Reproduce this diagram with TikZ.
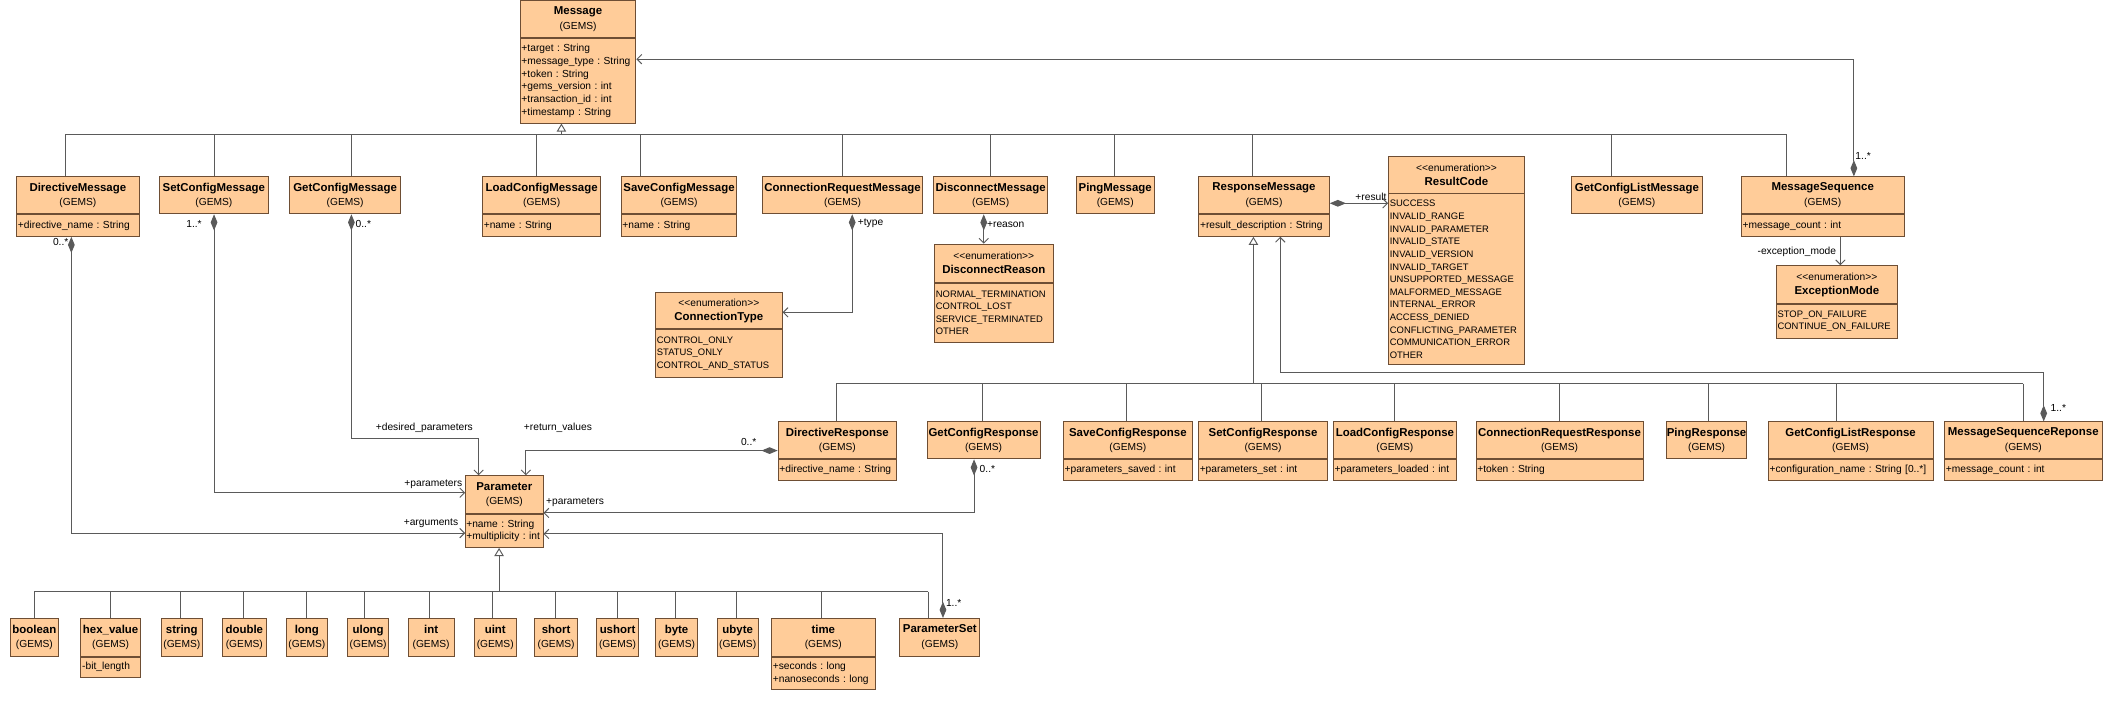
\documentclass[tikz,border=0pt]{standalone}
\usepackage{fontspec}
\setmainfont{Liberation Sans}
\usepackage{tikz}
\usetikzlibrary{arrows.meta}
\definecolor{boxfill}{RGB}{255,204,153}
\definecolor{boxedge}{RGB}{110,78,52}
\definecolor{wire}{RGB}{90,90,90}
\frenchspacing
\newcommand{\cname}[1]{{\fontsize{8.5}{10.5}\selectfont\bfseries #1}}
\newcommand{\clsname}[1]{\cname{#1}\\[1.5pt](GEMS)}
\newcommand{\enumtag}{<{}<enumeration>{}>}

\begin{document}
\begin{tikzpicture}[x=1pt,y=-1pt,font=\fontsize{7.6}{9.4}\selectfont,
  class node/.style={draw=boxedge, fill=boxfill, line width=0.7pt, inner sep=0pt, anchor=north west, align=center, minimum height=27.5pt},
  attr node/.style={draw=boxedge, fill=boxfill, line width=0.7pt, inner xsep=1pt, inner ysep=0pt, anchor=north west, align=left, text width=#1, minimum height=16pt},
  enum node/.style={attr node=#1, font=\fontsize{7}{9.4}\selectfont},
  wire line/.style={draw=wire, line width=0.7pt},
  gen/.style={wire line, -{Triangle[length=6pt,width=7pt,fill=white]}},
  nav/.style={wire line, -{Straight Barb[length=3.5pt,width=7pt]}},
  comp/.style={wire line, {Diamond[length=12pt,width=5pt]}-{Straight Barb[length=3.5pt,width=7pt]}},
  lbl/.style={inner sep=0pt}]
  \fill[white] (0,0) rectangle (1568,526);
  \useasboundingbox (0,0) rectangle (1568,526);

  % Message and its subclasses
  \node[class node, minimum width=86pt, minimum height=27.7pt] (msg) at (386,0) {\clsname{Message}};
  \node[attr node=84pt, minimum height=62.7pt] (msgA) at (msg.south west) {+target : String\\+message\_type : String\\+token : String\\+gems\_version : int\\+transaction\_id : int\\+timestamp : String};

  \node[class node, minimum width=91pt] (dmsg) at (12,131) {\clsname{DirectiveMessage}};
  \node[attr node=89pt] (dmsgA) at (dmsg.south west) {+directive\_name : String};
  \node[class node, minimum width=81pt] (scmsg) at (118,131) {\clsname{SetConfigMessage}};
  \node[class node, minimum width=82pt] (gcmsg) at (215,131) {\clsname{GetConfigMessage}};
  \node[class node, minimum width=88pt] (lcmsg) at (358,131) {\clsname{LoadConfigMessage}};
  \node[attr node=86pt] (lcmsgA) at (lcmsg.south west) {+name : String};
  \node[class node, minimum width=86pt] (svmsg) at (461,131) {\clsname{SaveConfigMessage}};
  \node[attr node=84pt] (svmsgA) at (svmsg.south west) {+name : String};
  \node[class node, minimum width=119pt] (cnmsg) at (566,131) {\clsname{ConnectionRequestMessage}};
  \node[class node, minimum width=85pt] (dcmsg) at (693,131) {\clsname{DisconnectMessage}};
  \node[class node, minimum width=58pt] (pgmsg) at (799,131) {\clsname{PingMessage}};
  \node[class node, minimum width=97pt] (rspmsg) at (890,131) {\clsname{ResponseMessage}};
  \node[attr node=95pt] (rspmsgA) at (rspmsg.south west) {+result\_description : String};
  \node[class node, minimum width=97pt] (gclmsg) at (1167,131) {\clsname{GetConfigListMessage}};
  \node[class node, minimum width=121pt] (mseq) at (1293,131) {\clsname{MessageSequence}};
  \node[attr node=119pt] (mseqA) at (mseq.south west) {+message\_count : int};

  % enumerations
  \node[class node, minimum width=101pt, minimum height=27pt] (rescode) at (1031,116) {\enumtag\\[1pt]\cname{ResultCode}};
  \node[enum node=99pt, minimum height=127pt] (rescodeV) at (rescode.south west) {SUCCESS\\INVALID\_RANGE\\INVALID\_PARAMETER\\INVALID\_STATE\\INVALID\_VERSION\\INVALID\_TARGET\\UNSUPPORTED\_MESSAGE\\MALFORMED\_MESSAGE\\INTERNAL\_ERROR\\ACCESS\_DENIED\\CONFLICTING\_PARAMETER\\COMMUNICATION\_ERROR\\OTHER};
  \node[class node, minimum width=94pt, minimum height=27pt] (contype) at (486.6,217) {\enumtag\\[1pt]\cname{ConnectionType}};
  \node[enum node=92pt, minimum height=35pt] (contypeV) at (contype.south west) {CONTROL\_ONLY\\STATUS\_ONLY\\CONTROL\_AND\_STATUS};
  \node[class node, minimum width=88pt, minimum height=28.5pt] (dcreason) at (693.8,181) {\enumtag\\[1pt]\cname{DisconnectReason}};
  \node[enum node=86pt, minimum height=43.5pt] (dcreasonV) at (dcreason.south west) {NORMAL\_TERMINATION\\CONTROL\_LOST\\SERVICE\_TERMINATED\\OTHER};
  \node[class node, minimum width=90pt, minimum height=28pt] (exmode) at (1319,197) {\enumtag\\[1pt]\cname{ExceptionMode}};
  \node[enum node=88pt, minimum height=25pt] (exmodeV) at (exmode.south west) {STOP\_ON\_FAILURE\\CONTINUE\_ON\_FAILURE};

  % responses
  \node[class node, minimum width=88pt] (dresp) at (577.6,313) {\clsname{DirectiveResponse}};
  \node[attr node=86pt, minimum height=15.5pt] (drespA) at (dresp.south west) {+directive\_name : String};
  \node[class node, minimum width=84pt] (gcresp) at (688.2,313) {\clsname{GetConfigResponse}};
  \node[class node, minimum width=96pt] (svresp) at (789.4,313) {\clsname{SaveConfigResponse}};
  \node[attr node=94pt, minimum height=15.5pt] (svrespA) at (svresp.south west) {+parameters\_saved : int};
  \node[class node, minimum width=96pt] (scresp) at (889.8,313) {\clsname{SetConfigResponse}};
  \node[attr node=94pt, minimum height=15.5pt] (screspA) at (scresp.south west) {+parameters\_set : int};
  \node[class node, minimum width=91.5pt] (lcresp) at (990,313) {\clsname{LoadConfigResponse}};
  \node[attr node=89.5pt, minimum height=15.5pt] (lcrespA) at (lcresp.south west) {+parameters\_loaded : int};
  \node[class node, minimum width=124pt] (cnresp) at (1096,313) {\clsname{ConnectionRequestResponse}};
  \node[attr node=122pt, minimum height=15.5pt] (cnrespA) at (cnresp.south west) {+token : String};
  \node[class node, minimum width=59.5pt] (pgresp) at (1237.5,313) {\clsname{PingResponse}};
  \node[class node, minimum width=122.5pt] (gclresp) at (1313,313) {\clsname{GetConfigListResponse}};
  \node[attr node=120.5pt, minimum height=15.5pt] (gclrespA) at (gclresp.south west) {+configuration\_name : String [0..*]};
  \node[class node, minimum width=117pt] (msresp) at (1444,313) {\clsname{MessageSequenceReponse}};
  \node[attr node=115pt, minimum height=15.5pt] (msrespA) at (msresp.south west) {+message\_count : int};

  % parameter types
  \node[class node, minimum width=57.5pt, minimum height=28pt] (param) at (345.5,353) {\clsname{Parameter}};
  \node[attr node=56.5pt, inner xsep=0.5pt, minimum height=24.6pt] (paramA) at (param.south west) {+name : String\\+multiplicity : int};

  \node[class node, minimum width=35.8pt, minimum height=28pt] (pbool) at (7.3,459) {\clsname{boolean}};
  \node[class node, minimum width=44.3pt, minimum height=28pt] (phex) at (59.7,459) {\clsname{hex\_value}};
  \node[attr node=42.3pt, minimum height=15pt] (phexA) at (phex.south west) {-bit\_length};
  \node[class node, minimum width=30.6pt, minimum height=28pt] (pstr) at (119.4,459) {\clsname{string}};
  \node[class node, minimum width=32.4pt, minimum height=28pt] (pdbl) at (164.9,459) {\clsname{double}};
  \node[class node, minimum width=30.8pt, minimum height=28pt] (plong) at (212.2,459) {\clsname{long}};
  \node[class node, minimum width=30.8pt, minimum height=28pt] (pulong) at (257.7,459) {\clsname{ulong}};
  \node[class node, minimum width=34.3pt, minimum height=28pt] (pint) at (302.7,459) {\clsname{int}};
  \node[class node, minimum width=31pt, minimum height=28pt] (puint) at (352,459) {\clsname{uint}};
  \node[class node, minimum width=31.4pt, minimum height=28pt] (pshort) at (397,459) {\clsname{short}};
  \node[class node, minimum width=31.3pt, minimum height=28pt] (pushort) at (442.7,459) {\clsname{ushort}};
  \node[class node, minimum width=31.3pt, minimum height=28pt] (pbyte) at (486.5,459) {\clsname{byte}};
  \node[class node, minimum width=30.8pt, minimum height=28pt] (pubyte) at (532.2,459) {\clsname{ubyte}};
  \node[class node, minimum width=76.9pt, minimum height=28pt] (ptime) at (572.7,459) {\clsname{time}};
  \node[attr node=74.9pt, minimum height=24pt] (ptimeA) at (ptime.south west) {+seconds : long\\+nanoseconds : long};
  \node[class node, minimum width=59.5pt, minimum height=28pt] (pset) at (668,459) {\clsname{ParameterSet}};

  % generalizations
  \draw[wire line] (49,99.8) -- (1327,99.8);
  \foreach \x/\n in {49/dmsg,159/scmsg,261/gcmsg,398.6/lcmsg,476/svmsg,625.7/cnmsg,736/dcmsg,828/pgmsg,930.6/rspmsg,1197/gclmsg,1327/mseq}
    \draw[wire line] (\x,99.8) -- (\n.north -| \x,0);
  \draw[gen] (417,99.8) -- (msgA.south -| 417,0);

  \draw[wire line] (621,285) -- (1502.7,285);
  \foreach \x/\n in {621/dresp,730/gcresp,837/svresp,937/scresp,1036/lcresp,1158/cnresp,1269/pgresp,1363.7/gclresp,1502.7/msresp}
    \draw[wire line] (\x,285) -- (\n.north -| \x,0);
  \draw[gen] (931,285) -- (rspmsgA.south -| 931,0);

  \draw[wire line] (25.5,439.5) -- (689.3,439.5);
  \foreach \x/\n in {25.5/pbool,81.9/phex,133.7/pstr,180.7/pdbl,227.4/plong,271/pulong,319.3/pint,366/puint,412.5/pshort,458.6/pushort,501.7/pbyte,547/pubyte,610.5/ptime,689.3/pset}
    \draw[wire line] (\x,439.5) -- (\n.north -| \x,0);
  \draw[gen] (370.7,439.5) -- (paramA.south -| 370.7,0);

  % associations
  \draw[comp] (mseq.north -| 1377,0) |- (msgA.east |- 0,44);
  \draw[comp] (rspmsg.east |- 0,151) -- (rescodeV.west |- 0,151);
  \draw[nav] (mseqA.south -| 1367,0) -- (exmode.north -| 1367,0);
  \draw[comp] (cnmsg.south -| 633,0) |- (contype.east |- 0,232);
  \draw[comp] (dcmsg.south -| 730.7,0) -- (dcreason.north -| 730.7,0);
  \draw[comp] (msresp.north -| 1518,0) |- (951,277) -- (rspmsgA.south -| 951,0);
  \draw[comp] (dmsgA.south -| 53,0) |- (paramA.west |- 0,396);
  \draw[comp] (scmsg.south -| 159,0) |- (param.west |- 0,366);
  \draw[comp] (gcmsg.south -| 261,0) |- (355.5,325.6) -- (param.north -| 355.5,0);
  \draw[comp] (dresp.west |- 0,334.7) -| (param.north -| 390.6,0);
  \draw[comp] (gcresp.south -| 723.5,0) |- (param.east |- 0,381);
  \draw[comp] (pset.north -| 700.4,0) |- (paramA.east |- 0,396.6);

  % role names and multiplicities
  \node[lbl, anchor=west] (l1) at (1378,116) {1..*};
  \node[lbl, anchor=east] (l2) at (1030,146) {+result};
  \node[lbl, anchor=east] (l3) at (1364,187) {-exception\_mode};
  \node[lbl, anchor=west] (l4) at (637,166) {+type};
  \node[lbl, anchor=west] (l5) at (733,166.5) {+reason};
  \node[lbl, anchor=west] (l6) at (1523,303) {1..*};
  \node[lbl, anchor=east] (l7) at (51,180) {0..*};
  \node[lbl, anchor=east] (l8) at (150,166) {1..*};
  \node[lbl, anchor=west] (l9) at (264,166) {0..*};
  \node[lbl, anchor=west] (l10) at (279,318) {+desired\_parameters};
  \node[lbl, anchor=west] (l11) at (389,318) {+return\_values};
  \node[lbl, anchor=east] (l12) at (562,328) {0..*};
  \node[lbl, anchor=east] (l13) at (343.5,360) {+parameters};
  \node[lbl, anchor=east] (l14) at (340.5,389) {+arguments};
  \node[lbl, anchor=west] (l15) at (405.5,373) {+parameters};
  \node[lbl, anchor=west] (l16) at (727.5,348) {0..*};
  \node[lbl, anchor=west] (l17) at (702.5,448) {1..*};
\end{tikzpicture}
\end{document}
